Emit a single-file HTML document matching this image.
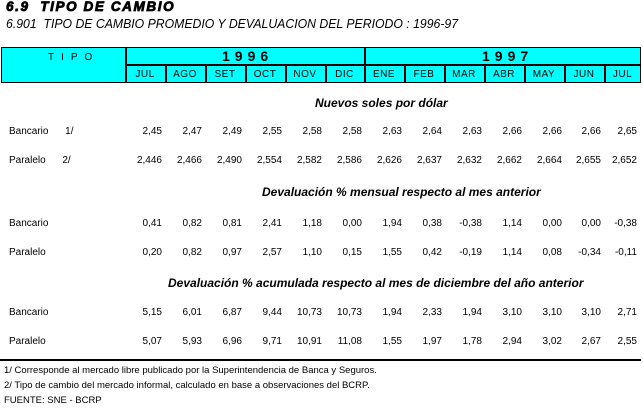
<!DOCTYPE html>
<html><head><meta charset="utf-8"><style>
body{margin:0;width:643px;height:408px;background:#fff;position:relative;overflow:hidden;font-family:"Liberation Sans",Arial,sans-serif;color:#000}
.a{position:absolute;white-space:nowrap}
.t1{font-weight:900;font-style:italic;font-size:13.5px;letter-spacing:1.6px;left:6px;top:-1px;-webkit-text-stroke:0.8px #000}
.t2{font-style:italic;font-size:12.5px;left:6px;top:17px;transform:scaleX(0.98);transform-origin:left}
.n{font-size:10px;text-align:right;width:60px}
.l{font-size:10px}
.s{font-weight:bold;font-style:italic;font-size:12px}
.f{font-size:9.5px;left:4px}
</style></head><body>
<div class="a t1">6.9&nbsp; TIPO DE CAMBIO</div>
<div class="a t2">6.901&nbsp; TIPO DE CAMBIO PROMEDIO Y DEVALUACION DEL PERIODO : 1996-97</div>
<div style="position:absolute;left:1px;top:47px;width:640px;height:36px;background:#00ffff;border:1.5px solid #000;box-sizing:border-box"></div>
<div style="position:absolute;left:125px;top:47px;width:1.5px;height:36px;background:#000"></div>
<div style="position:absolute;left:364px;top:47px;width:2px;height:36px;background:#000"></div>
<div style="position:absolute;left:125px;top:64px;width:516px;height:1.5px;background:#000"></div>
<div class="a l" style="left:48px;top:52px;letter-spacing:7px">TIPO</div>
<div class="a" style="left:222px;top:48px;font-weight:bold;font-size:14px;letter-spacing:5px">1996</div>
<div class="a" style="left:482px;top:48px;font-weight:bold;font-size:14px;letter-spacing:5px">1997</div>
<div id="m"></div>
<div class="a s" style="left:315px;top:96px">Nuevos soles por dólar</div>
<div class="a s" style="left:262px;top:185px">Devaluación % mensual respecto al mes anterior</div>
<div class="a s" style="left:168px;top:276px">Devaluación % acumulada respecto al mes de diciembre del año anterior</div>
<div class="a l" style="left:9px;top:126px">Bancario &nbsp;&nbsp;&nbsp;&nbsp; 1/</div>
<div class="a l" style="left:9px;top:155px">Paralelo &nbsp;&nbsp;&nbsp;&nbsp; 2/</div>
<div class="a l" style="left:9px;top:218px">Bancario</div>
<div class="a l" style="left:9px;top:247px">Paralelo</div>
<div class="a l" style="left:9px;top:307px">Bancario</div>
<div class="a l" style="left:9px;top:336px">Paralelo</div>
<div style="position:absolute;left:0;top:359px;width:641px;height:1.5px;background:#000"></div>
<div class="a f" style="top:365px">1/ Corresponde al mercado libre publicado por la Superintendencia de Banca y Seguros.</div>
<div class="a f" style="top:380px">2/ Tipo de cambio del mercado informal, calculado en base a observaciones del BCRP.</div>
<div class="a f" style="top:395px">FUENTE: SNE - BCRP</div>
<script>
var bounds=[125,165,205,245,285,325,364,404,444,484,524,564,604,641];
var months=["JUL","AGO","SET","OCT","NOV","DIC","ENE","FEB","MAR","ABR","MAY","JUN","JUL"];
var rights=[162,202,242,282,322,362,402,442,482,522,562,601,637];
var h="";
for(var i=0;i<13;i++){
 var x=bounds[i],w=bounds[i+1]-x;
 if(i>0&&i!=6)h+='<div style="position:absolute;left:'+x+'px;top:64px;width:1.5px;height:19px;background:#000"></div>';
 h+='<div class="a l" style="left:'+x+'px;width:'+w+'px;text-align:center;top:69px;letter-spacing:.5px">'+months[i]+'</div>';
}
var rows=[
[126,"2,45 2,47 2,49 2,55 2,58 2,58 2,63 2,64 2,63 2,66 2,66 2,66 2,65"],
[155,"2,446 2,466 2,490 2,554 2,582 2,586 2,626 2,637 2,632 2,662 2,664 2,655 2,652"],
[218,"0,41 0,82 0,81 2,41 1,18 0,00 1,94 0,38 -0,38 1,14 0,00 0,00 -0,38"],
[247,"0,20 0,82 0,97 2,57 1,10 0,15 1,55 0,42 -0,19 1,14 0,08 -0,34 -0,11"],
[307,"5,15 6,01 6,87 9,44 10,73 10,73 1,94 2,33 1,94 3,10 3,10 3,10 2,71"],
[336,"5,07 5,93 6,96 9,71 10,91 11,08 1,55 1,97 1,78 2,94 3,02 2,67 2,55"]];
rows.forEach(function(r){var v=r[1].split(" ");for(var i=0;i<13;i++){h+='<div class="a n" style="left:'+(rights[i]-60)+'px;top:'+r[0]+'px">'+v[i]+'</div>';}});
document.getElementById("m").outerHTML=h;
</script>
</body></html>
